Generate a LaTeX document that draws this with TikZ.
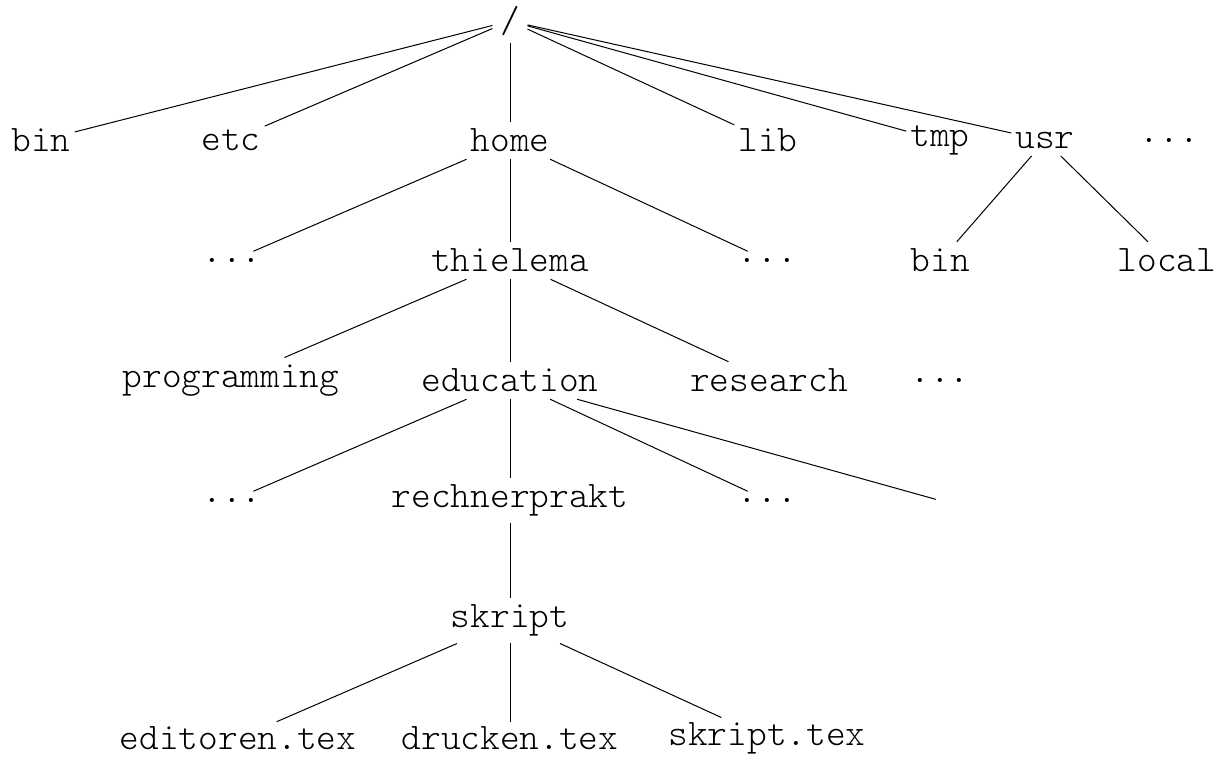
\documentclass[tikz,border=0pt]{standalone}
\usepackage{fontspec}
\setmonofont{Latin Modern Mono Light}
\begin{document}
\begin{tikzpicture}[x=1pt,y=-1pt,
  fnode/.style={inner xsep=4pt,inner ysep=7pt,font=\ttfamily\fontsize{37.5}{44}\selectfont},
  rootnode/.style={fnode,inner xsep=7.5pt},
  lastrow/.style={fnode,inner ysep=5pt},
  edge/.style={draw=black,line width=1pt}]
\useasboundingbox (0,0) rectangle (1215,757);
% row 0
\node[rootnode] (root) at (510,21) {/};
% row 1
\node[fnode] (bin) at (41,140.5) {bin};
\node[fnode] (etc) at (231,140.5) {etc};
\node[fnode] (home) at (510,140.5) {home};
\node[fnode] (lib) at (768,140.5) {lib};
\node[fnode] (tmp) at (940,140.5) {tmp};
\node[fnode] (usr) at (1045,140.5) {usr};
\node[fnode] (d1) at (1169.5,140.5) {...};
% row 2
\node[fnode] (d2a) at (232,260.5) {...};
\node[fnode] (thielema) at (510,260.5) {thielema};
\node[fnode] (d2b) at (767.5,260.5) {...};
\node[fnode] (ubin) at (940.5,260.5) {bin};
\node[fnode] (local) at (1167,260.5) {local};
% row 3
\node[fnode] (programming) at (231,380.5) {programming};
\node[fnode] (education) at (510,380.5) {education};
\node[fnode] (research) at (769,380.5) {research};
\node[fnode] (d3) at (940,380.5) {...};
% row 4
\node[fnode] (d4a) at (232,500.5) {...};
\node[fnode] (rechnerprakt) at (510,500.5) {rechnerprakt};
\node[fnode] (d4b) at (767.5,500.5) {...};
\node[fnode] (e4) at (940,500.5) {};
% row 5
\node[fnode] (skript) at (510,620.5) {skript};
% row 6
\node[lastrow] (editoren) at (238,738.5) {editoren.tex};
\node[lastrow] (drucken) at (510,738.5) {drucken.tex};
\node[lastrow] (skripttex) at (767,738.5) {skript.tex};
% edges
\foreach \c in {bin,etc,home,lib,tmp,usr} \draw[edge] (root) -- (\c);
\foreach \c in {d2a,thielema,d2b} \draw[edge] (home) -- (\c);
\foreach \c in {ubin,local} \draw[edge] (usr) -- (\c);
\foreach \c in {programming,education,research} \draw[edge] (thielema) -- (\c);
\foreach \c in {d4a,rechnerprakt,d4b,e4} \draw[edge] (education) -- (\c);
\draw[edge] (rechnerprakt) -- (skript);
\foreach \c in {editoren,drucken,skripttex} \draw[edge] (skript) -- (\c);
\end{tikzpicture}
\end{document}
